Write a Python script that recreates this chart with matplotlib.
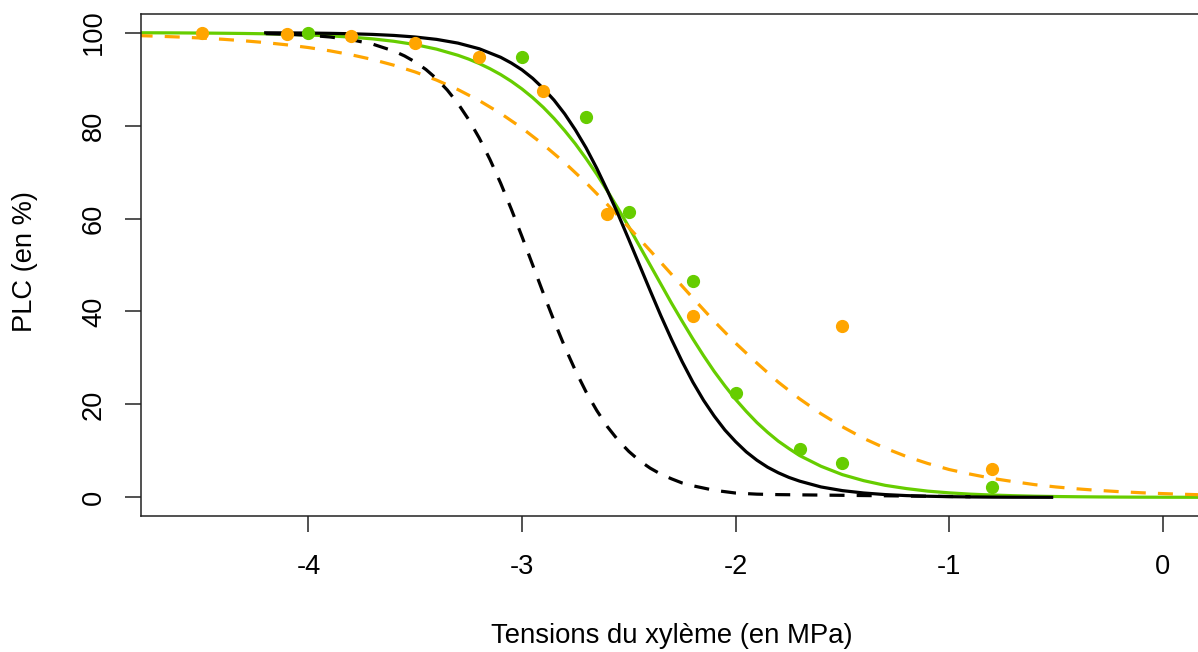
import matplotlib
matplotlib.use('Agg')
from matplotlib import pyplot as plt

plt.rcParams['font.family'] = ['Liberation Sans', 'DejaVu Sans']

# observed points
orange_x = [-4.5, -4.1, -3.8, -3.5, -3.2, -2.9, -2.6, -2.2, -1.5, -0.8]
orange_y = [100, 99.6, 99.3, 97.8, 94.8, 87.4, 61.0, 39.0, 36.8, 6.1]
green_x = [-4.0, -3.0, -2.7, -2.5, -2.2, -2.0, -1.7, -1.5, -0.8]
green_y = [100, 94.8, 81.8, 61.5, 46.5, 22.5, 10.4, 7.4, 2.2]

# fitted curves
black_x = [-4.2, -4.1, -4.0, -3.9, -3.8, -3.7, -3.6, -3.5, -3.4, -3.3, -3.2, -3.1,
           -3.05, -3.0, -2.95, -2.9, -2.85, -2.8, -2.75, -2.7, -2.65, -2.6, -2.55,
           -2.5, -2.45, -2.4, -2.35, -2.3, -2.25, -2.2, -2.15, -2.1, -2.05, -2.0,
           -1.95, -1.9, -1.85, -1.8, -1.75, -1.7, -1.6, -1.5, -1.4, -1.3, -1.2,
           -1.1, -1.0, -0.9, -0.8, -0.7, -0.6, -0.52]
black_y = [99.96, 99.93, 99.9, 99.84, 99.75, 99.61, 99.39, 99.05, 98.54, 97.74, 96.52, 94.69,
           93.45, 91.98, 90.16, 87.97, 85.47, 82.5, 79.06, 75.2, 70.81, 66.0, 60.9,
           55.5, 50.0, 44.5, 39.1, 34.0, 29.2, 24.8, 20.9, 17.5, 14.5, 12.0,
           9.8, 8.0, 6.5, 5.3, 4.3, 3.5, 2.25, 1.46, 0.95, 0.61, 0.39,
           0.25, 0.16, 0.1, 0.06, 0.04, 0.03, 0.02]

black_dash_x = [-4.2, -4.1, -4.0, -3.9, -3.8, -3.7, -3.6, -3.55, -3.5, -3.45, -3.4,
                -3.35, -3.3, -3.25, -3.2, -3.15, -3.1, -3.05, -3.0, -2.95, -2.9,
                -2.85, -2.8, -2.75, -2.7, -2.65, -2.6, -2.55, -2.5, -2.45, -2.4,
                -2.35, -2.3, -2.25, -2.2, -2.1, -2.0, -1.9, -1.8, -1.7, -1.6, -1.5,
                -1.4, -1.3, -1.2, -1.1, -1.0, -0.9]
black_dash_y = [99.78, 99.64, 99.42, 99.06, 98.47, 97.53, 96.03, 94.98, 93.68, 92.06, 90.07,
                87.65, 84.75, 81.3, 77.3, 72.7, 67.6, 62.0, 56.1, 50.0, 43.9,
                38.0, 32.4, 27.3, 22.7, 18.7, 15.2, 12.3, 9.9, 7.9, 6.3,
                5.0, 4.0, 3.1, 2.5, 1.53, 0.94, 0.7, 0.6, 0.55, 0.5, 0.45,
                0.4, 0.35, 0.3, 0.25, 0.2, 0.15]

green_cx = [-4.8, -4.7, -4.6, -4.5, -4.4, -4.3, -4.2, -4.1, -4.0, -3.9, -3.8, -3.7,
            -3.6, -3.5, -3.4, -3.3, -3.25, -3.2, -3.15, -3.1, -3.05, -3.0, -2.95,
            -2.9, -2.85, -2.8, -2.75, -2.7, -2.65, -2.6, -2.55, -2.5, -2.45, -2.4,
            -2.35, -2.3, -2.25, -2.2, -2.15, -2.1, -2.05, -2.0, -1.95, -1.9, -1.85,
            -1.8, -1.75, -1.7, -1.6, -1.5, -1.4, -1.3, -1.2, -1.1, -1.0, -0.9,
            -0.8, -0.7, -0.6, -0.5, -0.4, -0.3, -0.2, -0.1, 0.0, 0.1, 0.2]
green_cy = [99.96, 99.95, 99.93, 99.9, 99.86, 99.81, 99.74, 99.64, 99.49, 99.3, 99.02, 98.65,
            98.13, 97.42, 96.44, 95.12, 94.3, 93.34, 92.23, 90.97, 89.52, 87.87, 86.0,
            83.9, 81.53, 78.9, 76.05, 72.9, 69.53, 65.9, 62.13, 58.2, 54.1, 50.0,
            45.9, 41.8, 37.9, 34.1, 30.5, 27.1, 24.0, 21.1, 18.5, 16.1, 14.0,
            12.1, 10.5, 9.0, 6.7, 4.9, 3.6, 2.6, 1.9, 1.35, 0.98, 0.7,
            0.51, 0.37, 0.26, 0.19, 0.14, 0.1, 0.07, 0.05, 0.04, 0.03, 0.02]

orange_cx = [-4.8, -4.7, -4.6, -4.5, -4.4, -4.3, -4.2, -4.1, -4.0, -3.9, -3.8, -3.7,
             -3.6, -3.5, -3.4, -3.3, -3.2, -3.1, -3.0, -2.9, -2.8, -2.7, -2.6, -2.5,
             -2.4, -2.3, -2.2, -2.1, -2.0, -1.9, -1.8, -1.7, -1.6, -1.5, -1.4, -1.3,
             -1.2, -1.1, -1.0, -0.9, -0.8, -0.7, -0.6, -0.5, -0.4, -0.3, -0.2, -0.1,
             0.0, 0.1, 0.2]
orange_cy = [99.36, 99.21, 99.04, 98.82, 98.56, 98.23, 97.84, 97.36, 96.78, 96.08, 95.23, 94.21,
             92.98, 91.52, 89.78, 87.74, 85.36, 82.61, 79.46, 75.9, 72.0, 67.7, 63.0, 58.1,
             53.1, 48.0, 42.9, 37.9, 33.2, 28.9, 24.8, 21.2, 18.0, 15.2, 12.7, 10.6,
             8.8, 7.3, 6.0, 5.0, 4.1, 3.4, 2.75, 2.25, 1.84, 1.5, 1.23, 1.0,
             0.82, 0.67, 0.54]

xticks = [-4, -3, -2, -1, 0]
yticks = [0, 20, 40, 60, 80, 100]

orange = '#FFA500'
green = '#66CD00'

fig = plt.figure(figsize=(11.98, 6.52), dpi=100)
ax = fig.add_axes([141/1198, 136/652, 1061/1198, 502/652])

ax.plot(orange_x, orange_y, 'o', color=orange, markersize=8.5, zorder=3)
ax.plot(green_x, green_y, 'o', color=green, markersize=8.5, zorder=3)

ax.plot(green_cx, green_cy, color=green, lw=2.3)
ax.plot(orange_cx, orange_cy, color=orange, lw=2.3, dashes=(4.7, 3.8))
ax.plot(black_x, black_y, color='black', lw=2.3)
ax.plot(black_dash_x, black_dash_y, color='black', lw=2.3, dashes=(4.7, 3.8))

ax.set_xlim(-4.784, 0.184)
ax.set_ylim(-4, 104)
ax.set_xticks(xticks)
ax.set_xticklabels([str(t) for t in xticks])
ax.set_yticks(yticks)
ax.set_yticklabels([str(t) for t in yticks], rotation=90, va='center')
ax.tick_params(length=11.5, width=1.1, labelsize=19.6, color='#222222')
ax.tick_params(axis='x', pad=16)
ax.tick_params(axis='y', pad=13)
for s in ax.spines.values():
    s.set_linewidth(1.1)
    s.set_color('#222222')

fig.text(672/1198, 1 - 636/652, 'Tensions du xylème (en MPa)', fontsize=19.8,
         ha='center', va='center')
fig.text(25.5/1198, 1 - 262/652, 'PLC (en %)', fontsize=19.6, rotation=90,
         ha='center', va='center')

fig.savefig('out.png', dpi=100)
